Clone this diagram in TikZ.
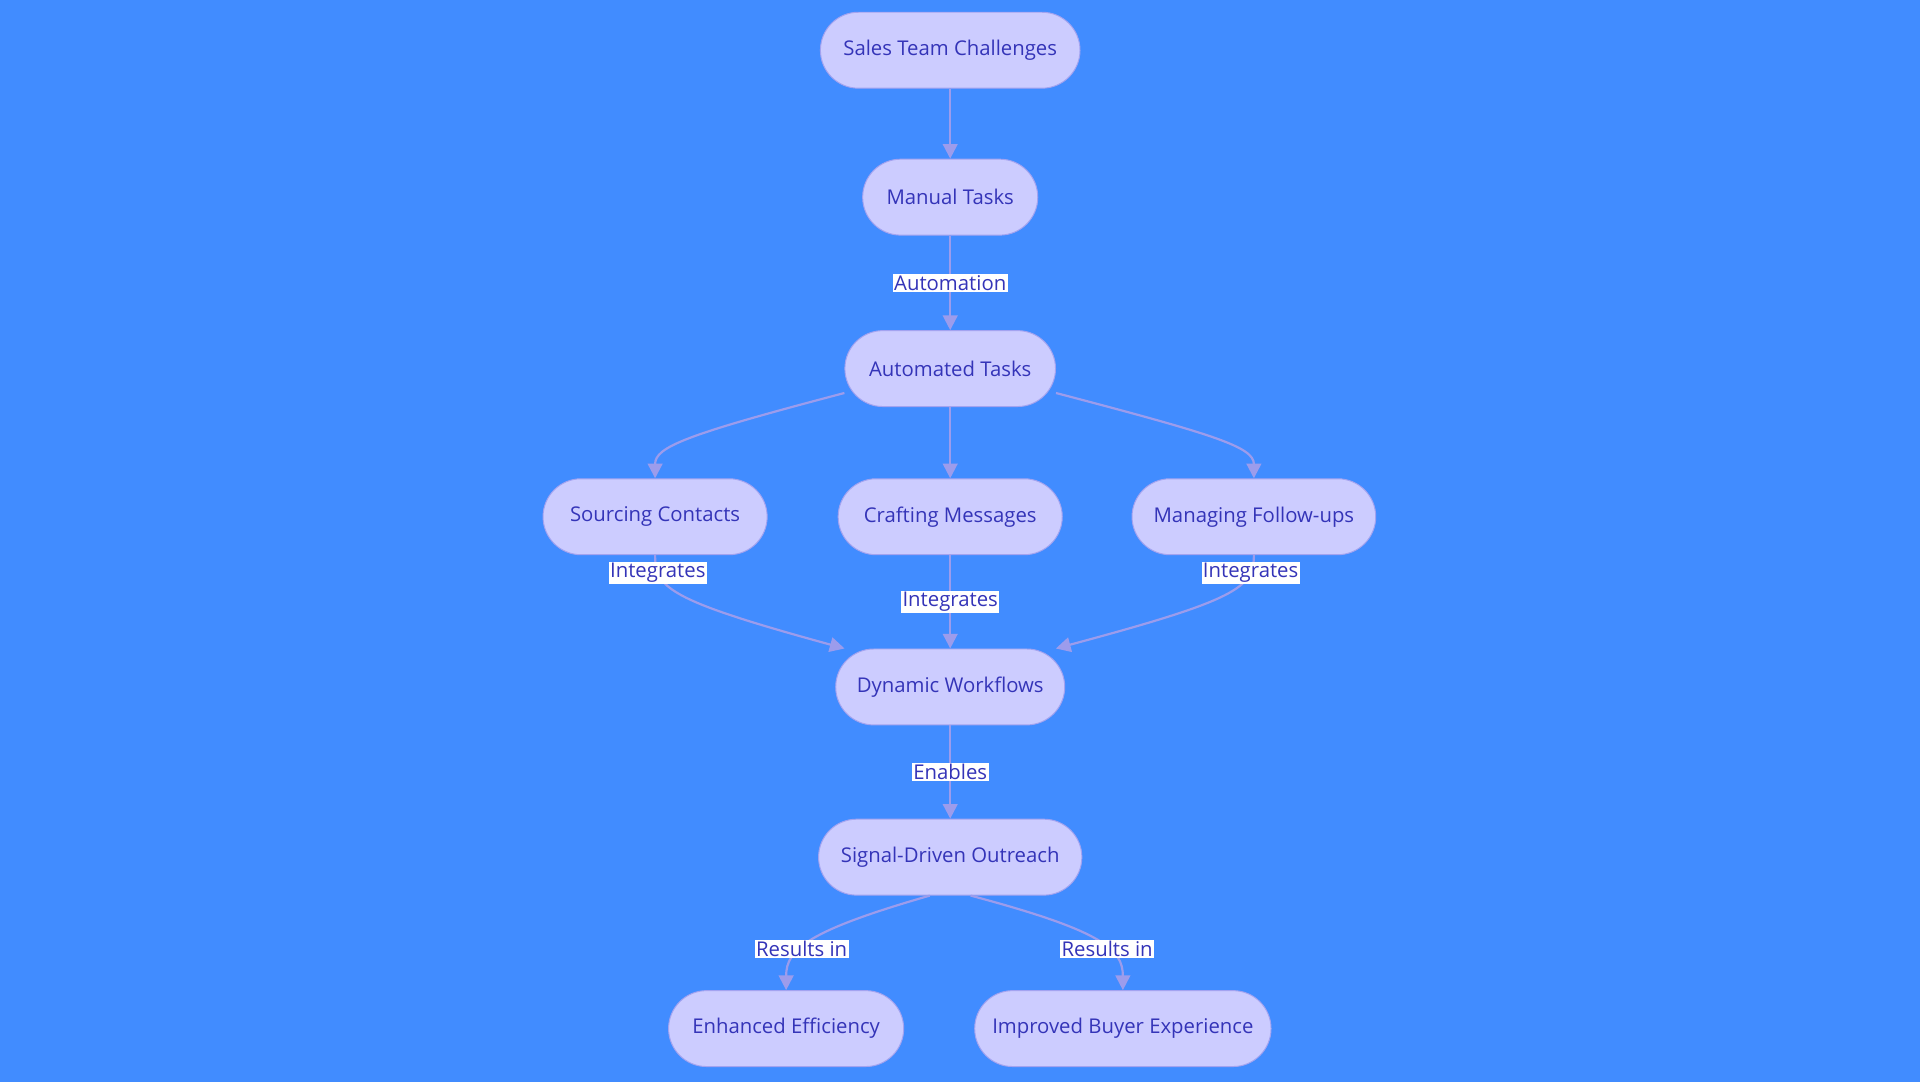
\documentclass[tikz,border=0pt]{standalone}
\usepackage{fontspec}
\setmainfont{Open Sans}
\usetikzlibrary{arrows.meta}
\definecolor{bgblue}{HTML}{418CFF}
\definecolor{boxfill}{HTML}{CCCCFF}
\definecolor{boxline}{HTML}{A3A3F0}
\definecolor{boxtext}{HTML}{3434B8}
\definecolor{edgecol}{HTML}{9C9CEC}
\tikzset{
    pill/.style={draw=boxline, fill=boxfill, text=boxtext, rounded corners=15.5pt,
        minimum height=31pt, inner xsep=0pt, font=\fontsize{8.3pt}{10pt}\selectfont},
    link/.style={draw=edgecol, line width=0.9pt, -{Triangle[length=6pt,width=6pt]}},
    tag/.style={fill=white, text=boxtext, inner sep=0.6pt, font=\fontsize{8.3pt}{10pt}\selectfont}
}
\begin{document}
\begin{tikzpicture}[x=0.5pt,y=-0.5pt]
    \fill[bgblue] (0,0) rectangle (1568,884);
    \useasboundingbox (0,0) rectangle (1568,884);
    % nodes
    \node[pill, minimum width=106pt] (stc) at (776,41) {Sales Team Challenges};
    \node[pill, minimum width=71.5pt] (mt) at (776,161) {Manual Tasks};
    \node[pill, minimum width=86pt] (at) at (776,301) {Automated Tasks};
    \node[pill, minimum width=91.5pt] (sc) at (535,422) {Sourcing Contacts};
    \node[pill, minimum width=91.5pt] (cm) at (776,422) {Crafting Messages};
    \node[pill, minimum width=99.5pt] (mf) at (1024,422) {Managing Follow-ups};
    \node[pill, minimum width=93.5pt] (dw) at (776,561) {Dynamic Workflows};
    \node[pill, minimum width=107.5pt] (sdo) at (776,700) {Signal-Driven Outreach};
    \node[pill, minimum width=96pt] (ee) at (642,840) {Enhanced Efficiency};
    \node[pill, minimum width=121pt] (ibe) at (917,840) {Improved Buyer Experience};
    % connectors
    \draw[link] (stc) -- (mt);
    \draw[link] (mt) -- node[tag] {Automation} (at);
    \draw[link] (at.193) .. controls (560,355) and (535,365) .. (sc.north);
    \draw[link] (at) -- (cm);
    \draw[link] (at.347) .. controls (992,355) and (1024,365) .. (mf.north);
    \draw[link] (sc.south) .. controls (535,480) and (545,490) .. node[tag, pos=0.2] {Integrates} (dw.160);
    \draw[link] (cm) -- node[tag] {Integrates} (dw);
    \draw[link] (mf.south) .. controls (1024,480) and (1010,490) .. node[tag, pos=0.2] {Integrates} (dw.20);
    \draw[link] (dw) -- node[tag] {Enables} (sdo);
    \draw[link] (sdo.242) .. controls (660,760) and (642,775) .. node[tag, pos=0.6] {Results in} (ee.north);
    \draw[link] (sdo.298) .. controls (900,760) and (917,775) .. node[tag, pos=0.6] {Results in} (ibe.north);
\end{tikzpicture}
\end{document}
